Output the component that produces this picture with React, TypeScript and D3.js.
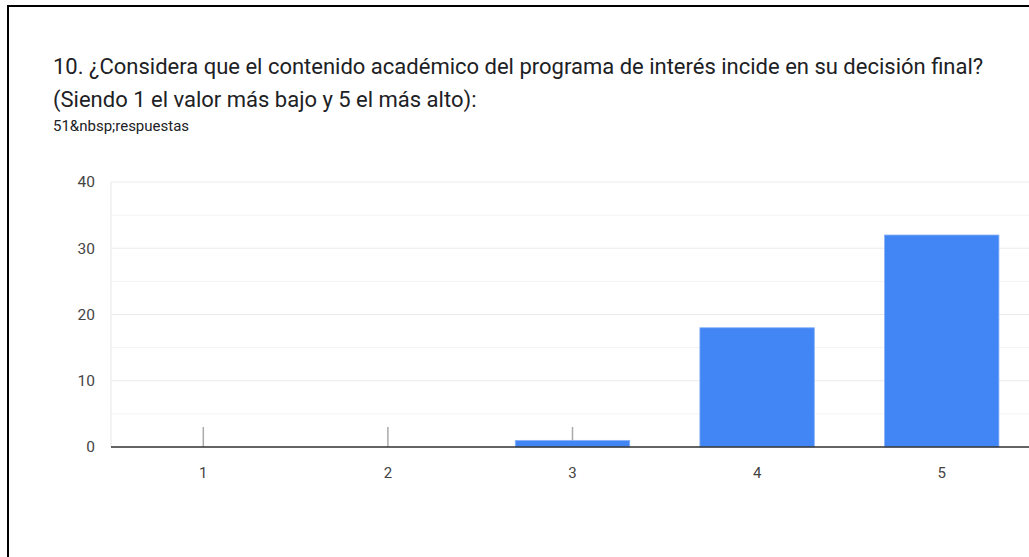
import * as d3 from "d3";

const categories = ["1", "2", "3", "4", "5"];
const counts = [0, 0, 1, 18, 32];
const yTicks = [0, 10, 20, 30, 40];
const yMinorTicks = [5, 15, 25, 35];

const titleLines = [
  "10. ¿Considera que el contenido académico del programa de interés incide en su decisión final?",
  "(Siendo 1 el valor más bajo y 5 el más alto):",
];
const subtitle = "51&nbsp;respuestas";

export default function App() {
  const width = 1029;
  const height = 557;
  const plot = { left: 111, right: 1034, top: 182, bottom: 447 };

  const x = d3
    .scaleBand()
    .domain(categories)
    .range([plot.left, plot.right])
    .paddingInner(0.38)
    .paddingOuter(0.19);

  const y = d3.scaleLinear().domain([0, 40]).range([plot.bottom, plot.top]);

  const font = "Roboto, Arial, sans-serif";

  return (
    <svg
      width={width}
      height={height}
      style={{ position: "absolute", left: 0, top: 0, background: "#fff" }}
    >
      {/* frame of the screenshot */}
      <line x1={7} x2={width} y1={6} y2={6} stroke="#000" strokeWidth={2} />
      <line x1={8} x2={8} y1={5} y2={height} stroke="#000" strokeWidth={2} />

      {titleLines.map((t, i) => (
        <text
          key={t}
          x={53}
          y={74 + i * 33}
          fontFamily={font}
          fontSize={22}
          fill="#202124"
        >
          {t}
        </text>
      ))}
      <text x={53} y={131} fontFamily={font} fontSize={15} fill="#202124">
        {subtitle}
      </text>

      {/* grid */}
      {yMinorTicks.map((t) => (
        <line
          key={"m" + t}
          x1={plot.left}
          x2={width}
          y1={y(t)}
          y2={y(t)}
          stroke="#f4f4f4"
          strokeWidth={1}
        />
      ))}
      {yTicks.map((t) => (
        <line
          key={"g" + t}
          x1={plot.left}
          x2={width}
          y1={y(t)}
          y2={y(t)}
          stroke="#ebebeb"
          strokeWidth={1.2}
        />
      ))}
      <line
        x1={plot.left}
        x2={plot.left}
        y1={plot.top}
        y2={plot.bottom}
        stroke="#ebebeb"
        strokeWidth={1.2}
      />

      {yTicks.map((t) => (
        <text
          key={"yl" + t}
          x={95}
          y={y(t)}
          dy="0.35em"
          textAnchor="end"
          fontFamily={font}
          fontSize={15.5}
          fill="#444"
        >
          {t}
        </text>
      ))}

      {/* category markers, under the bars */}
      {categories.map((c) => {
        const cx = (x(c) as number) + x.bandwidth() / 2;
        return (
          <line
            key={"t" + c}
            x1={cx}
            x2={cx}
            y1={plot.bottom}
            y2={plot.bottom - 20}
            stroke="#aaa"
            strokeWidth={1.5}
          />
        );
      })}

      {/* bars */}
      {categories.map((c, i) => (
        <rect
          key={"b" + c}
          x={x(c)}
          y={y(counts[i])}
          width={x.bandwidth()}
          height={plot.bottom - y(counts[i])}
          fill="#4285f4"
          stroke="#8ab2f8"
          strokeWidth={counts[i] > 0 ? 0.8 : 0}
        />
      ))}

      <line
        x1={plot.left}
        x2={width}
        y1={plot.bottom}
        y2={plot.bottom}
        stroke="#333"
        strokeWidth={1.6}
      />

      {categories.map((c) => (
        <text
          key={"xl" + c}
          x={(x(c) as number) + x.bandwidth() / 2}
          y={473}
          dy="0.35em"
          textAnchor="middle"
          fontFamily={font}
          fontSize={15}
          fill="#444"
        >
          {c}
        </text>
      ))}
    </svg>
  );
}
